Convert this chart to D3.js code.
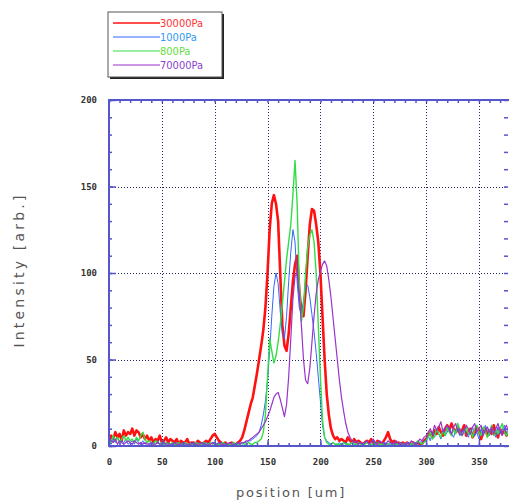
<!DOCTYPE html>
<html>
<head>
<meta charset="utf-8">
<script src="https://cdn.jsdelivr.net/npm/d3@7"></script>
<style>
  body { margin: 0; background: #fff; }
  svg { display: block; }
</style>
</head>
<body>
<div id="chart"></div>
<script>
var width = 509,
    height = 501;

// sample positions, every 2 um
var position = d3.range(0, 381, 2);

var labels = ["30000Pa", "1000Pa", "800Pa", "70000Pa"];
var colors = ["#ff1111", "#3366ff", "#33dd44", "#9933cc"];
var textColors = ["#ff3333", "#3399ee", "#66dd44", "#8844cc"];
var widths = [2.6, 1, 1.4, 1.2];

var p30000 = [
  2,6,4,8,5,7,3,9,6,8,
  7,10,6,9,8,5,7,4,6,3,
  5,2,4,3,6,2,3,5,2,4,
  3,2,4,1,3,2,2,4,1,2,
  2,1,3,2,1,2,3,2,4,6,
  7,5,3,2,1,2,1,1,2,1,
  1,2,3,5,9,14,19,24,28,35,
  42,50,58,67,80,100,125,140,145,140,
  130,100,70,58,55,65,80,95,105,110,
  90,78,75,90,110,128,137,136,128,118,
  100,75,50,30,18,10,6,4,5,3,
  4,3,2,5,3,2,4,2,3,2,
  1,2,3,2,4,2,1,3,2,1,
  3,5,8,4,2,3,1,2,1,2,
  1,2,1,1,2,1,2,1,1,3,
  4,6,8,5,9,7,11,8,6,10,
  12,9,13,10,8,11,7,9,12,6,
  8,10,5,7,11,9,4,8,10,6,
  9,7,12,8,5,10,7,9,6,8,
  7];

var p1000 = [
  3,1,4,2,5,1,3,2,4,1,
  2,3,1,4,2,1,3,1,2,1,
  1,2,1,3,1,2,1,1,2,1,
  1,1,2,1,1,2,1,1,1,2,
  1,1,2,1,1,1,2,1,1,2,
  2,1,1,2,1,1,1,2,1,1,
  1,1,2,1,2,2,3,3,4,5,
  6,8,12,18,26,38,55,75,92,100,
  94,78,65,62,75,95,112,125,118,95,
  80,76,84,92,93,86,76,66,54,40,
  26,12,5,3,2,1,2,1,1,2,
  1,1,2,1,1,2,1,1,1,2,
  1,1,2,1,1,1,2,1,1,1,
  1,2,1,1,1,2,1,1,1,1,
  1,1,2,1,1,2,1,2,3,2,
  4,6,3,8,5,9,7,4,10,6,
  8,11,7,5,9,12,6,8,10,7,
  5,9,11,6,8,4,10,7,12,9,
  6,10,8,5,11,7,9,12,8,6,
  9];

var p800 = [
  4,2,6,3,5,2,4,6,3,5,
  3,4,2,5,3,6,8,4,2,3,
  2,1,3,2,1,2,1,2,1,1,
  2,1,1,2,1,1,2,1,1,1,
  1,2,1,1,1,2,1,1,2,1,
  2,1,1,1,2,1,1,1,1,2,
  1,1,1,2,1,1,2,1,1,2,
  2,3,4,8,18,40,62,55,48,52,
  60,70,82,95,108,118,128,145,165,140,
  95,72,80,100,115,122,125,118,100,70,
  40,15,5,2,1,1,2,1,1,1,
  1,2,1,1,1,2,1,1,2,1,
  1,1,2,1,1,1,1,2,1,1,
  1,1,1,2,1,1,1,1,2,1,
  1,2,1,1,2,1,3,2,1,2,
  3,5,8,4,6,10,7,5,9,6,
  11,8,6,10,7,13,9,6,8,11,
  7,9,5,10,12,8,6,11,9,5,
  8,12,6,9,7,10,13,8,6,9,
  7];

var p70000 = [
  5,3,2,4,1,3,2,1,2,3,
  2,1,3,2,1,2,1,2,1,1,
  2,1,1,2,1,1,2,1,1,1,
  1,2,1,1,1,2,1,1,1,1,
  2,1,1,1,2,1,1,1,1,2,
  1,1,2,1,1,1,1,2,1,1,
  1,2,1,2,2,3,3,4,5,6,
  7,8,10,12,14,17,20,24,28,30,
  31,27,22,17,24,40,62,85,98,100,
  88,70,50,38,36,45,60,75,88,96,
  101,105,107,104,96,86,74,62,50,38,
  28,20,13,8,5,3,2,3,1,2,
  1,2,3,1,2,4,2,1,3,2,
  2,1,3,2,1,2,3,1,2,1,
  1,2,1,3,2,1,2,4,3,5,
  6,8,10,7,12,9,11,14,8,10,
  12,9,7,11,13,8,10,6,9,12,
  10,7,11,13,8,10,12,6,9,11,
  8,11,7,10,13,9,6,10,12,8,
  10];

var series = [p30000, p1000, p800, p70000];
var xTicks = [0, 50, 100, 150, 200, 250, 300, 350];
var yTicks = [0, 50, 100, 150, 200];

var pLeft = 109, pRight = 508, pTop = 100, pBottom = 446;

var x = d3.scaleLinear().domain([0, 377.5]).range([pLeft, pRight]);
var y = d3.scaleLinear().domain([0, 200]).range([pBottom, pTop]);

var svg = d3.select("#chart")
  .append("svg")
  .attr("width", width)
  .attr("height", height);

svg.append("defs").append("clipPath")
  .attr("id", "clip")
  .append("rect")
  .attr("x", pLeft).attr("y", pTop - 2)
  .attr("width", pRight - pLeft).attr("height", pBottom - pTop + 2);

// dotted grid
var grid = svg.append("g").attr("class", "grid");
grid.selectAll(".vg")
  .data(xTicks.filter(function(d){ return d > 0 }))
  .enter().append("line")
  .attr("x1", function(d){ return Math.round(x(d)) + 0.5 })
  .attr("x2", function(d){ return Math.round(x(d)) + 0.5 })
  .attr("y1", pTop).attr("y2", pBottom)
  .attr("stroke", "#222266")
  .attr("stroke-dasharray", "1,2");
grid.selectAll(".hg")
  .data(yTicks.filter(function(d){ return d > 0 && d < 200 }))
  .enter().append("line")
  .attr("y1", function(d){ return Math.round(y(d)) + 0.5 })
  .attr("y2", function(d){ return Math.round(y(d)) + 0.5 })
  .attr("x1", pLeft).attr("x2", pRight)
  .attr("stroke", "#222266")
  .attr("stroke-dasharray", "1,2");

// curves
var line = d3.line()
  .x(function(d, i){ return x(position[i]) })
  .y(function(d){ return y(d) });

svg.append("g")
  .attr("clip-path", "url(#clip)")
  .selectAll("path")
  .data(series)
  .enter().append("path")
  .attr("d", line)
  .attr("fill", "none")
  .attr("stroke", function(d, i){ return colors[i] })
  .attr("stroke-width", function(d, i){ return widths[i] })
  .attr("stroke-linejoin", "round");

// frame with inward ticks
var axisColor = "#5555cc";
svg.append("rect")
  .attr("x", pLeft).attr("y", pTop)
  .attr("width", pRight - pLeft + 2).attr("height", pBottom - pTop)
  .attr("fill", "none")
  .attr("stroke", axisColor)
  .attr("stroke-width", 2);

function noDomain(g){ g.select(".domain").remove() }

var minorX = d3.range(0, 378, 10);
var minorY = d3.range(0, 201, 10);

svg.append("g")
  .attr("transform", "translate(0," + pBottom + ")")
  .call(d3.axisTop(x).tickValues(minorX).tickSize(3).tickFormat(""))
  .call(noDomain);
svg.append("g")
  .attr("transform", "translate(0," + pTop + ")")
  .call(d3.axisBottom(x).tickValues(minorX).tickSize(3).tickFormat(""))
  .call(noDomain);
svg.append("g")
  .attr("transform", "translate(" + pLeft + ",0)")
  .call(d3.axisRight(y).tickValues(minorY).tickSize(3).tickFormat(""))
  .call(noDomain);
svg.append("g")
  .attr("transform", "translate(" + pRight + ",0)")
  .call(d3.axisLeft(y).tickValues(minorY).tickSize(4).tickFormat(""))
  .call(noDomain);

// major tick marks
svg.append("g")
  .attr("transform", "translate(" + pLeft + ",0)")
  .call(d3.axisRight(y).tickValues(yTicks).tickSize(7).tickFormat(""))
  .call(noDomain);
svg.append("g")
  .attr("transform", "translate(0," + pBottom + ")")
  .call(d3.axisTop(x).tickValues(xTicks).tickSize(6).tickFormat(""))
  .call(noDomain);

svg.selectAll(".tick line").attr("stroke", axisColor).attr("stroke-width", 1.5);

// tick labels
function labelStyle(g){
  g.select(".domain").remove();
  g.selectAll("text").attr("font-family", "DejaVu Sans Mono, monospace")
    .attr("font-size", 9).attr("font-weight", "bold").attr("fill", "#333");
}
svg.append("g")
  .attr("transform", "translate(" + (pLeft - 12) + ",0)")
  .call(d3.axisLeft(y).tickValues(yTicks).tickSize(0).tickPadding(0))
  .call(labelStyle);
svg.append("g")
  .attr("transform", "translate(0," + (pBottom + 13) + ")")
  .call(d3.axisBottom(x).tickValues(xTicks).tickSize(0).tickPadding(0))
  .call(labelStyle);

// axis titles
svg.append("text")
  .attr("transform", "translate(24,270) rotate(-90)")
  .attr("text-anchor", "middle")
  .attr("font-family", "DejaVu Sans, sans-serif")
  .attr("font-size", 14)
  .attr("letter-spacing", 3.2)
  .attr("fill", "#555")
  .text("Intensity [arb.]");

svg.append("text")
  .attr("x", 291).attr("y", 497)
  .attr("text-anchor", "middle")
  .attr("font-family", "DejaVu Sans, sans-serif")
  .attr("font-size", 13)
  .attr("letter-spacing", 1.8)
  .attr("fill", "#555")
  .text("position [um]");

// legend
var lg = svg.append("g");
lg.append("rect")
  .attr("x", 110).attr("y", 14).attr("width", 114).attr("height", 65)
  .attr("fill", "#222");
lg.append("rect")
  .attr("x", 108).attr("y", 12).attr("width", 114).attr("height", 65)
  .attr("fill", "#fff").attr("stroke", "#555").attr("stroke-width", 1);

var items = lg.selectAll(".item")
  .data(labels)
  .enter().append("g")
  .attr("transform", function(d, i){ return "translate(0," + (23 + i * 14) + ")" });
items.append("line")
  .attr("x1", 113).attr("x2", 160)
  .attr("stroke", function(d, i){ return colors[i] })
  .attr("stroke-width", function(d, i){ return i === 0 ? 1.5 : 1 });
items.append("text")
  .attr("x", 160).attr("y", 4)
  .attr("font-family", "Liberation Sans Narrow, DejaVu Sans Condensed, sans-serif")
  .attr("font-size", 11)
  .attr("fill", function(d, i){ return textColors[i] })
  .text(function(d){ return d });
</script>
</body>
</html>
